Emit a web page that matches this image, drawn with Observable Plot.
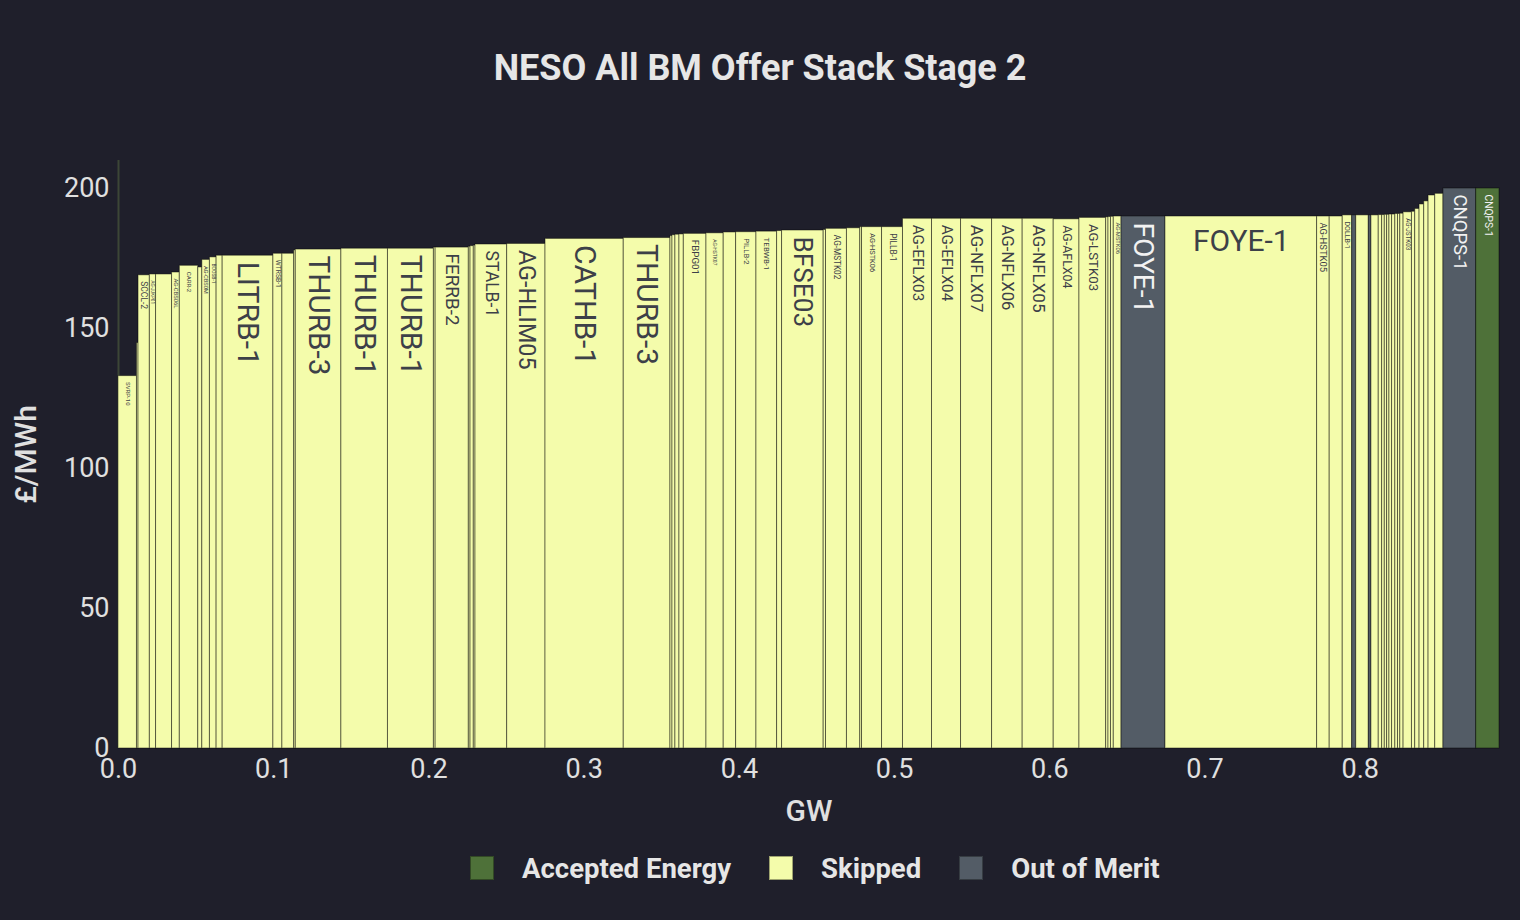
<!DOCTYPE html>
<html>
<head>
<meta charset="utf-8">
<script src="https://cdn.jsdelivr.net/npm/d3@7"></script>
<script src="https://cdn.jsdelivr.net/npm/@observablehq/plot@0.6"></script>
<style>
  html, body { margin: 0; padding: 0; background: #1f1f2b; overflow: hidden; }
  body { width: 1520px; height: 920px; position: relative; font-family: Roboto, "Noto Sans", sans-serif; }
  #title { position: absolute; top: 46px; left: 0; width: 1520px; text-align: center; color: #e6e6e6;
           font-size: 36px; line-height: 44px; font-weight: 700; }
  #chart { position: absolute; top: 120px; left: 0; }
  #legend { position: absolute; top: 848px; left: 470px; height: 40px; display: flex;
            align-items: center; color: #e6e6e6; font-size: 27.5px; font-weight: 700; }
  .item { display: flex; align-items: center; margin-right: 38px; }
  .sw { width: 24px; height: 24px; margin-right: 28px; box-sizing: border-box; border: 1px solid rgba(0,0,0,0.35); }
</style>
</head>
<body>
<div id="title">NESO All BM Offer Stack Stage 2</div>
<div id="chart"></div>
<div id="legend"></div>
<script>
// ---- data ----
const units = [
  "SVRP-10", "", "SCCL-2", "AG-JJKP01", "", "AG-CBS06L", "CARR-2", "", "AG-CBS0M", "BOOSB-1",
  "", "LITRB-1", "WTRSB-1", "", "", "THURB-3", "THURB-1", "THURB-1", "", "FERRB-2",
  "", "", "", "STALB-1", "AG-HLIM05", "CATHB-1", "THURB-3", "", "", "",
  "", "FBPG01", "AG-HSTK07", "", "PILLB-2", "TEBWB-1", "", "BFSE03", "", "AG-MSTK02",
  "", "", "AG-HSTK06", "PILLB-1", "AG-EFLX03", "AG-EFLX04", "AG-NFLX07", "AG-NFLX06", "AG-NFLX05", "AG-AFLX04",
  "AG-LSTK03", "", "", "", "AG-MSTK06", "FOYE-1", "FOYE-1", "AG-HSTK05", "", "DOLLB-1",
  "", "", "", "", "", "", "", "", "", "",
  "", "", "", "AG-JSTK03", "", "", "", "", "", "",
  "CNQPS-1", "CNQPS-1"
];
const volumeGW = [
  0.0119, 0.0010, 0.0073, 0.0040, 0.0103, 0.0050, 0.0119, 0.0026, 0.0049, 0.0043,
  0.0039, 0.0327, 0.0058, 0.0076, 0.0010, 0.0294, 0.0300, 0.0296, 0.0011, 0.0214,
  0.0011, 0.0021, 0.0011, 0.0204, 0.0247, 0.0504, 0.0301, 0.0013, 0.0019, 0.0026,
  0.0028, 0.0146, 0.0111, 0.0080, 0.0131, 0.0133, 0.0032, 0.0268, 0.0015, 0.0135,
  0.0086, 0.0011, 0.0129, 0.0135, 0.0187, 0.0187, 0.0200, 0.0197, 0.0200, 0.0166,
  0.0172, 0.0015, 0.0016, 0.0018, 0.0050, 0.0283, 0.0977, 0.0081, 0.0084, 0.0061,
  0.0026, 0.0081, 0.0017, 0.0047, 0.0022, 0.0017, 0.0015, 0.0015, 0.0017, 0.0021,
  0.0017, 0.0015, 0.0021, 0.0054, 0.0021, 0.0028, 0.0030, 0.0028, 0.0043, 0.0053,
  0.0211, 0.0150
];
const priceGBP = [
  133.0, 144.8, 169.0, 169.3, 169.3, 170.0, 172.4, 171.8, 174.5, 175.4,
  176.0, 176.0, 176.7, 176.7, 177.9, 178.2, 178.5, 178.5, 178.9, 178.9,
  179.2, 179.4, 179.6, 180.0, 180.2, 182.0, 182.3, 183.0, 183.3, 183.5,
  183.6, 183.8, 184.0, 184.3, 184.4, 184.6, 184.8, 185.0, 185.2, 185.6,
  185.8, 186.2, 186.2, 186.2, 189.2, 189.2, 189.2, 189.2, 189.2, 189.0,
  189.5, 189.7, 189.8, 189.9, 190.0, 190.0, 190.0, 190.0, 190.0, 190.4,
  190.4, 190.4, 190.4, 190.4, 190.5, 190.5, 190.6, 190.6, 190.7, 190.7,
  190.9, 190.9, 191.0, 191.5, 191.7, 192.7, 194.3, 195.4, 197.5, 198.1,
  200.0, 200.0
];
const S = "Skipped", O = "Out of Merit", A = "Accepted Energy";
const status = [
  S, S, S, S, S, S, S, S, S, S,
  S, S, S, S, S, S, S, S, S, S,
  S, S, S, S, S, S, S, S, S, S,
  S, S, S, S, S, S, S, S, S, S,
  S, S, S, S, S, S, S, S, S, S,
  S, S, S, S, S, O, S, S, S, S,
  O, S, O, S, S, S, S, S, S, S,
  S, S, S, S, S, S, S, S, S, S,
  O, A
];
const categories = [A, S, O];
const colors = ["#4e7139", "#f4fcab", "#535c66"];
const xTicks = [0, 0.1, 0.2, 0.3, 0.4, 0.5, 0.6, 0.7, 0.8];
const yTicks = [0, 50, 100, 150, 200];

// ---- build table ----
const ends = d3.cumsum(volumeGW);
const rows = units.map((u, i) => ({
  unit: u, x1: ends[i] - volumeGW[i], x2: ends[i], price: priceGBP[i], status: status[i], w: volumeGW[i]
}));
const total = ends[ends.length - 1];

const W = 1520, H = 710, mL = 118, mR = 21, mT = 40, mB = 82;
const pxPerGW = (W - mL - mR) / total;
const fontFor = d => {
  const w = d.w * pxPerGW;
  const f = w < 13 ? 0.75 * w : 0.87 * w - 10;
  return Math.min(30, f);
};
const horiz = d => d.unit && (d.unit.length * 0.6 * 30) <= d.w * pxPerGW - 8;
const labeled = rows.filter(d => d.unit && (horiz(d) || fontFor(d) >= 3.5));
const rotLabels = labeled.filter(d => !horiz(d));
const horLabels = labeled.filter(d => horiz(d));
const txtColor = d => d.status === S ? "#3d4048" : "#f2f2f2";

const chart = Plot.plot({
  width: W, height: H,
  marginLeft: mL, marginRight: mR, marginTop: mT, marginBottom: mB,
  style: { background: "transparent", fontFamily: "Roboto, sans-serif", color: "#e0e0e0" },
  x: { domain: [0, total] },
  y: { domain: [0, 210] },
  color: { domain: categories, range: colors },
  marks: [
    Plot.ruleX([0], { y1: 0, y2: 210, stroke: "#3c4636", strokeWidth: 2 }),
    Plot.rectY(rows, {
      x1: "x1", x2: "x2", y1: 0, y2: "price", fill: "status",
      stroke: "#000", strokeOpacity: 0.45, strokeWidth: 1
    }),
    Plot.text(rotLabels, {
      x: d => (d.x1 + d.x2) / 2, y: "price", text: "unit",
      rotate: 90, textAnchor: "start", lineAnchor: "middle", dy: 6,
      fontSize: fontFor, fill: txtColor, fontFamily: "Roboto, sans-serif"
    }),
    Plot.text(horLabels, {
      x: d => (d.x1 + d.x2) / 2, y: "price", text: "unit",
      textAnchor: "middle", lineAnchor: "top", dy: 13,
      fontSize: 30, fill: txtColor, fontFamily: "Roboto, sans-serif"
    }),
    Plot.axisX({
      ticks: xTicks, tickFormat: d3.format(".1f"), tickSize: 0, tickPadding: 10,
      fontSize: 27, label: "GW", labelAnchor: "center", labelArrow: "none", labelOffset: 72
    }),
    Plot.axisY({
      ticks: yTicks, tickFormat: d3.format("d"), tickSize: 0, tickPadding: 9,
      fontSize: 27, label: "£/MWh", labelAnchor: "center", labelArrow: "none", labelOffset: 104
    })
  ]
});
chart.querySelectorAll("g[aria-label='x-axis label'] text, g[aria-label='y-axis label'] text").forEach(t => {
  t.setAttribute("font-size", "30");
  t.setAttribute("font-weight", "500");
});
document.getElementById("chart").appendChild(chart);

const legend = document.getElementById("legend");
categories.forEach((c, i) => {
  const item = document.createElement("div");
  item.className = "item";
  const sw = document.createElement("div");
  sw.className = "sw";
  sw.style.background = colors[i];
  const lab = document.createElement("span");
  lab.textContent = c;
  item.appendChild(sw);
  item.appendChild(lab);
  legend.appendChild(item);
});
</script>
</body>
</html>
